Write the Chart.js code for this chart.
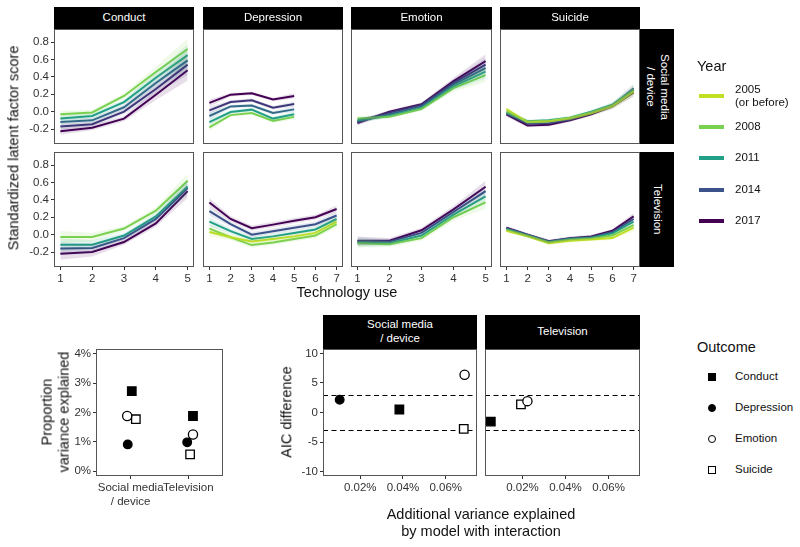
<!DOCTYPE html>
<html>
<head>
<meta charset="utf-8">
<script src="https://cdn.jsdelivr.net/npm/chart.js@4.4.1/dist/chart.umd.min.js"></script>
<style>
    body { margin: 0; background: #fff; font-family: "Liberation Sans", Arial, sans-serif; }
    #fig { position: relative; width: 800px; height: 547px; overflow: hidden; }
    #fig canvas { position: absolute; }
    .txt { position: absolute; color: #111; white-space: nowrap; transform: translate(-50%, -50%); text-align: center; }
    .title { font-size: 14.5px; line-height: 1.2; }
    .rot { transform: translate(-50%, -50%) rotate(-90deg); }
    .strip { position: absolute; background: #000; color: #fff; font-size: 11.5px; line-height: 1.2;
             display: flex; align-items: center; justify-content: center; text-align: center; }
    .strip.vert { writing-mode: vertical-rl; }
    .leg { position: absolute; font-size: 11.5px; color: #111; line-height: 1.15; }
    .legtitle { position: absolute; font-size: 14.5px; color: #111; }
    .swatch { position: absolute; width: 25px; height: 4px; }
    .sym { position: absolute; width: 8px; height: 8px; box-sizing: border-box; border: 1.3px solid #000; }
</style>
</head>
<body>
<div id="fig">
    <!-- column strips -->
    <div class="strip" style="left:54px;top:7px;width:140px;height:22px">Conduct</div>
    <div class="strip" style="left:203px;top:7px;width:140px;height:22px">Depression</div>
    <div class="strip" style="left:351px;top:7px;width:141px;height:22px">Emotion</div>
    <div class="strip" style="left:500px;top:7px;width:140px;height:22px">Suicide</div>
    <!-- row strips -->
    <div class="strip vert" style="left:640px;top:29px;width:34px;height:115px">Social media<br>/ device</div>
    <div class="strip vert" style="left:640px;top:152px;width:34px;height:115px">Television</div>

    <div class="txt title rot" style="left:14px;top:148px">Standardized latent factor score</div>
    <div class="txt title" style="left:347px;top:293px">Technology use</div>

    <!-- Year legend -->
    <div class="legtitle" style="left:697px;top:58px">Year</div>
    <div id="yearLegend"></div>

    <!-- bottom left -->
    <div class="txt title rot" style="left:56px;top:412px">Proportion<br>variance explained</div>

    <!-- bottom right -->
    <div class="strip" style="left:323px;top:315px;width:154px;height:34px">Social media<br>/ device</div>
    <div class="strip" style="left:485px;top:315px;width:155px;height:34px">Television</div>
    <div class="txt title rot" style="left:287px;top:412px">AIC difference</div>
    <div class="txt title" style="left:481px;top:523px">Additional variance explained<br>by model with interaction</div>

    <!-- Outcome legend -->
    <div class="legtitle" style="left:697px;top:339px">Outcome</div>
    <div id="outcomeLegend"></div>
</div>

<script>
// technology use levels and score axis ticks
const tech5 = [1, 2, 3, 4, 5];
const tech7 = [1, 2, 3, 4, 5, 6, 7];
const scoreTicks = [-0.2, 0, 0.2, 0.4, 0.6, 0.8];

// years shown in each panel
const socialYears = [2008, 2011, 2013, 2015, 2017];
const suicideSocialYears = [2005, 2008, 2011, 2014, 2017];
const tvYears = [2005, 2008, 2011, 2014, 2017];
const tvYearsShort = [2008, 2011, 2014, 2017];
const legendYears = ['2005', '2008', '2011', '2014', '2017'];

// social media / device row (one row of values per year)
const conductSocial = [
    [-0.03, -0.01, 0.18, 0.455, 0.72],
    [-0.08, -0.05, 0.11, 0.39, 0.65],
    [-0.12, -0.10, 0.05, 0.33, 0.59],
    [-0.17, -0.145, 0.0, 0.26, 0.54],
    [-0.225, -0.185, -0.08, 0.195, 0.475]
];
const conductSocialCI = [0.04, 0.03, 0.03, 0.06, 0.12];

const depressionSocial = [
    [-0.18, -0.04, -0.016, -0.108, -0.06],
    [-0.12, -0.005, 0.023, -0.08, -0.03],
    [-0.05, 0.06, 0.07, -0.016, 0.026],
    [0.015, 0.11, 0.13, 0.046, 0.087],
    [0.10, 0.195, 0.21, 0.14, 0.18]
];
const depressionSocialCI = [0.04, 0.02, 0.02, 0.02, 0.03];

const emotionSocial = [
    [-0.08, -0.06, 0.03, 0.27, 0.42],
    [-0.10, -0.05, 0.04, 0.29, 0.46],
    [-0.11, -0.03, 0.06, 0.31, 0.50],
    [-0.12, -0.01, 0.08, 0.33, 0.54],
    [-0.13, 0.0, 0.085, 0.35, 0.58]
];
const emotionSocialCI = [0.03, 0.02, 0.02, 0.04, 0.08];

const suicideSocial = [
    [0.03, -0.12, -0.11, -0.08, -0.02, 0.06, 0.23],
    [0.0, -0.12, -0.11, -0.07, -0.01, 0.07, 0.24],
    [-0.01, -0.11, -0.10, -0.07, 0.0, 0.08, 0.25],
    [-0.02, -0.14, -0.13, -0.09, -0.02, 0.07, 0.27],
    [-0.03, -0.16, -0.15, -0.10, -0.03, 0.06, 0.22]
];
const suicideSocialCI = [0.03, 0.02, 0.02, 0.02, 0.02, 0.03, 0.05];

// television row
const conductTv = [
    [-0.027, -0.027, 0.07, 0.276, 0.62],
    [-0.115, -0.115, -0.01, 0.21, 0.555],
    [-0.16, -0.154, -0.04, 0.18, 0.535],
    [-0.22, -0.20, -0.085, 0.13, 0.50]
];
const conductTvCI = [0.07, 0.05, 0.03, 0.04, 0.08];

const depressionTv = [
    [0.03, -0.03, -0.08, -0.05, -0.02, 0.02, 0.15],
    [0.07, -0.03, -0.12, -0.09, -0.05, -0.01, 0.12],
    [0.15, 0.04, -0.05, -0.02, 0.02, 0.06, 0.18],
    [0.27, 0.12, 0.0, 0.04, 0.08, 0.12, 0.22],
    [0.37, 0.18, 0.075, 0.115, 0.16, 0.20, 0.295]
];
const depressionTvCI = [0.05, 0.03, 0.03, 0.03, 0.03, 0.03, 0.04];

const emotionTv = [
    [-0.10, -0.11, -0.04, 0.20, 0.37],
    [-0.09, -0.10, -0.01, 0.23, 0.44],
    [-0.08, -0.08, 0.02, 0.26, 0.50],
    [-0.07, -0.07, 0.05, 0.29, 0.55]
];
const emotionTvCI = [0.05, 0.03, 0.03, 0.04, 0.07];

const suicideTv = [
    [0.045, -0.02, -0.10, -0.07, -0.055, -0.04, 0.08],
    [0.055, -0.015, -0.09, -0.06, -0.045, -0.01, 0.11],
    [0.065, -0.01, -0.085, -0.05, -0.035, 0.015, 0.15],
    [0.075, -0.005, -0.08, -0.045, -0.03, 0.03, 0.18],
    [0.08, 0.0, -0.075, -0.04, -0.02, 0.045, 0.21]
];
const suicideTvCI = [0.02, 0.02, 0.02, 0.02, 0.02, 0.02, 0.04];

// variance explained (bottom left), order: Conduct, Depression, Emotion, Suicide
const sources = ['Social media\n/ device', 'Television'];
const outcomes = ['Conduct', 'Depression', 'Emotion', 'Suicide'];
const varianceSocial = [2.73, 0.91, 1.88, 1.77];
const varianceTv = [1.88, 0.98, 1.25, 0.57];
const jitterSocial = [0.02, -0.05, -0.06, 0.09];
const jitterTv = [0.08, -0.02, 0.08, 0.03];
const varianceTicks = [0, 1, 2, 3, 4];

// interaction model (bottom right), additional variance in %
const addVarSocial = [0.0383, 0.0104, 0.0688, 0.0684];
const aicSocial = [0.51, 2.15, 6.39, -2.77];
const addVarTv = [0.0053, null, 0.0223, 0.0193];
const aicTv = [-1.53, null, 1.92, 1.36];
const addVarTicks = [0.02, 0.04, 0.06];
const aicTicks = [-10, -5, 0, 5, 10];
const aicThresholds = [-3, 3];

// colours
const yearStops = [2005, 2008, 2011, 2014, 2017];
const yearPalette = [[194, 223, 35], [122, 209, 81], [34, 160, 135], [59, 82, 139], [68, 1, 84]];
const outcomeStyle = [
    { pointStyle: 'rect', fill: '#000', radius: 6 },
    { pointStyle: 'circle', fill: '#000', radius: 4.3 },
    { pointStyle: 'circle', fill: '#fff', radius: 4.6 },
    { pointStyle: 'rect', fill: '#fff', radius: 6 }
];
const tickFont = { family: '"Liberation Sans", Arial, sans-serif', size: 11.5 };
const tickColor = '#333';

function yearColor(year, alpha) {
    let i = 0;
    while (i < yearStops.length - 2 && year > yearStops[i + 1]) i++;
    const t = Math.min(1, Math.max(0, (year - yearStops[i]) / (yearStops[i + 1] - yearStops[i])));
    const c = yearPalette[i].map((v, k) => Math.round(v + (yearPalette[i + 1][k] - v) * t));
    return `rgba(${c[0]},${c[1]},${c[2]},${alpha})`;
}

// grey frame round each panel
const panelBox = {
    id: 'panelBox',
    afterDraw(chart) {
        const a = chart.chartArea, ctx = chart.ctx;
        ctx.save();
        ctx.strokeStyle = '#555';
        ctx.lineWidth = 1;
        ctx.strokeRect(a.left + 0.5, a.top + 0.5, a.right - a.left - 1, a.bottom - a.top - 1);
        ctx.restore();
    }
};

// dashed AIC guide lines
const aicLines = {
    id: 'aicLines',
    beforeDatasetsDraw(chart) {
        const y = chart.scales.y, a = chart.chartArea, ctx = chart.ctx;
        ctx.save();
        ctx.setLineDash([5, 3.5]);
        ctx.strokeStyle = '#000';
        ctx.lineWidth = 1;
        aicThresholds.forEach(v => {
            const py = Math.round(y.getPixelForValue(v)) + 0.5;
            ctx.beginPath();
            ctx.moveTo(a.left, py);
            ctx.lineTo(a.right, py);
            ctx.stroke();
        });
        ctx.restore();
    }
};

function makeAxis(show, min, max, ticks, fmt, size, horizontal) {
    const axis = {
        type: 'linear',
        display: show,
        min: min,
        max: max,
        afterBuildTicks: s => { s.ticks = ticks.map(v => ({ value: v })); },
        grid: { display: true, drawOnChartArea: false, drawTicks: true, tickLength: 3, color: tickColor },
        border: { display: false },
        ticks: { font: tickFont, color: tickColor, padding: 2, maxRotation: 0, autoSkip: false, callback: fmt }
    };
    if (show) {
        axis.afterFit = s => { if (horizontal) s.height = size; else s.width = size; };
    }
    return axis;
}

// place one chart so that its plot area matches box {l, t, w, h}
function placeChart(box, xAxis, yAxis, datasets, extra) {
    const spare = 16;
    const padL = yAxis.display ? yAxis.size : spare;
    const padB = xAxis.display ? xAxis.size : spare;
    const padT = spare, padR = 24;
    const cv = document.createElement('canvas');
    cv.width = box.w + padL + padR;
    cv.height = box.h + padT + padB;
    cv.style.left = (box.l - padL) + 'px';
    cv.style.top = (box.t - padT) + 'px';
    document.getElementById('fig').prepend(cv);
    new Chart(cv, {
        type: 'line',
        data: { datasets: datasets },
        options: {
            responsive: false,
            animation: false,
            events: [],
            layout: { padding: { left: yAxis.display ? 0 : spare, right: padR, top: padT, bottom: xAxis.display ? 0 : spare } },
            plugins: { legend: { display: false }, tooltip: { enabled: false } },
            scales: {
                x: makeAxis(xAxis.display, xAxis.min, xAxis.max, xAxis.ticks, xAxis.fmt, xAxis.size, true),
                y: makeAxis(yAxis.display, yAxis.min, yAxis.max, yAxis.ticks, yAxis.fmt, yAxis.size, false)
            }
        },
        plugins: [panelBox].concat(extra || [])
    });
}

// trend lines with confidence ribbons
function drawTrendPanel(box, xs, years, rows, ci, showX, showY) {
    const datasets = [];
    rows.forEach((vals, k) => {
        datasets.push({
            data: vals.map((v, i) => ({ x: xs[i], y: v + ci[i] })),
            borderWidth: 0, pointRadius: 0, fill: '+1',
            backgroundColor: yearColor(years[k], 0.13)
        });
        datasets.push({
            data: vals.map((v, i) => ({ x: xs[i], y: v - ci[i] })),
            borderWidth: 0, pointRadius: 0, fill: false
        });
    });
    rows.forEach((vals, k) => {
        datasets.push({
            data: vals.map((v, i) => ({ x: xs[i], y: v })),
            borderColor: yearColor(years[k], 1), borderWidth: 2, pointRadius: 0, fill: false
        });
    });
    const xTicks = box.seven ? tech7 : tech5;
    const pad = box.seven ? 0.3 : 0.2;
    placeChart(box,
        { display: showX, min: 1 - pad, max: xTicks.length + pad, ticks: xTicks, fmt: v => String(v), size: 22 },
        { display: showY, min: -0.372, max: 0.95, ticks: scoreTicks, fmt: v => v.toFixed(1), size: 40 },
        datasets);
}

function outcomeDatasets(xsList, ysList) {
    return outcomes.map((name, k) => ({
        label: name,
        showLine: false,
        data: xsList.map((xs, j) => ({ x: xs[k], y: ysList[j][k] })).filter(p => p.x !== null && p.y !== null),
        pointStyle: outcomeStyle[k].pointStyle,
        pointRadius: outcomeStyle[k].radius,
        pointBackgroundColor: outcomeStyle[k].fill,
        pointBorderColor: '#000',
        pointBorderWidth: 1.3
    }));
}

function buildLegends() {
    const yl = document.getElementById('yearLegend');
    const yearY = [96, 127, 158, 190, 221];
    legendYears.forEach((y, i) => {
        const sw = document.createElement('div');
        sw.className = 'swatch';
        sw.style.left = '699px';
        sw.style.top = (yearY[i] - 2) + 'px';
        sw.style.background = yearColor(Number(y), 1);
        yl.appendChild(sw);
        const lab = document.createElement('div');
        lab.className = 'leg';
        lab.style.left = '735px';
        if (i === 0) {
            lab.style.top = (yearY[i] - 13) + 'px';
            lab.innerHTML = y + '<br>(or before)';
        } else {
            lab.style.top = (yearY[i] - 7) + 'px';
            lab.textContent = y;
        }
        yl.appendChild(lab);
    });

    const ol = document.getElementById('outcomeLegend');
    const outY = [377, 408, 439, 470];
    outcomes.forEach((name, k) => {
        const s = document.createElement('div');
        s.className = 'sym';
        s.style.left = '708px';
        s.style.top = (outY[k] - 4) + 'px';
        s.style.background = outcomeStyle[k].fill;
        if (outcomeStyle[k].pointStyle === 'circle') s.style.borderRadius = '50%';
        ol.appendChild(s);
        const lab = document.createElement('div');
        lab.className = 'leg';
        lab.style.left = '735px';
        lab.style.top = (outY[k] - 7) + 'px';
        lab.textContent = name;
        ol.appendChild(lab);
    });
}

document.addEventListener('DOMContentLoaded', function () {
    const colL = [54, 203, 351, 500];
    const colW = [140, 140, 141, 140];
    const rowT = [29, 152];
    const h = 115;
    const box = (c, r, seven) => ({ l: colL[c], t: rowT[r], w: colW[c], h: h, seven: seven });

    drawTrendPanel(box(0, 0, false), tech5, socialYears, conductSocial, conductSocialCI, false, true);
    drawTrendPanel(box(1, 0, true), tech5, socialYears, depressionSocial, depressionSocialCI, false, false);
    drawTrendPanel(box(2, 0, false), tech5, socialYears, emotionSocial, emotionSocialCI, false, false);
    drawTrendPanel(box(3, 0, true), tech7, suicideSocialYears, suicideSocial, suicideSocialCI, false, false);
    drawTrendPanel(box(0, 1, false), tech5, tvYearsShort, conductTv, conductTvCI, true, true);
    drawTrendPanel(box(1, 1, true), tech7, tvYears, depressionTv, depressionTvCI, true, false);
    drawTrendPanel(box(2, 1, false), tech5, tvYearsShort, emotionTv, emotionTvCI, true, false);
    drawTrendPanel(box(3, 1, true), tech7, tvYears, suicideTv, suicideTvCI, true, false);

    // proportion of variance explained
    const xsSocial = jitterSocial.map(j => 1 + j);
    const xsTv = jitterTv.map(j => 2 + j);
    placeChart({ l: 96, t: 349, w: 127, h: 127 },
        { display: true, min: 0.4, max: 2.6, ticks: [1, 2], fmt: v => sources[v - 1].split('\n'), size: 34 },
        { display: true, min: -0.17, max: 4.17, ticks: varianceTicks, fmt: v => v + '%', size: 40 },
        outcomeDatasets([xsSocial, xsTv], [varianceSocial, varianceTv]));

    // AIC difference panels
    const addFmt = v => v.toFixed(2) + '%';
    placeChart({ l: 323, t: 349, w: 154, h: 127 },
        { display: true, min: 0.0026, max: 0.0746, ticks: addVarTicks, fmt: addFmt, size: 22 },
        { display: true, min: -10.75, max: 10.75, ticks: aicTicks, fmt: v => String(v), size: 40 },
        outcomeDatasets([addVarSocial], [aicSocial]), [aicLines]);
    placeChart({ l: 485, t: 349, w: 155, h: 127 },
        { display: true, min: 0.0026, max: 0.0746, ticks: addVarTicks, fmt: addFmt, size: 22 },
        { display: false, min: -10.75, max: 10.75, ticks: aicTicks, fmt: v => String(v), size: 40 },
        outcomeDatasets([addVarTv], [aicTv]), [aicLines]);

    buildLegends();
});
</script>
</body>
</html>
